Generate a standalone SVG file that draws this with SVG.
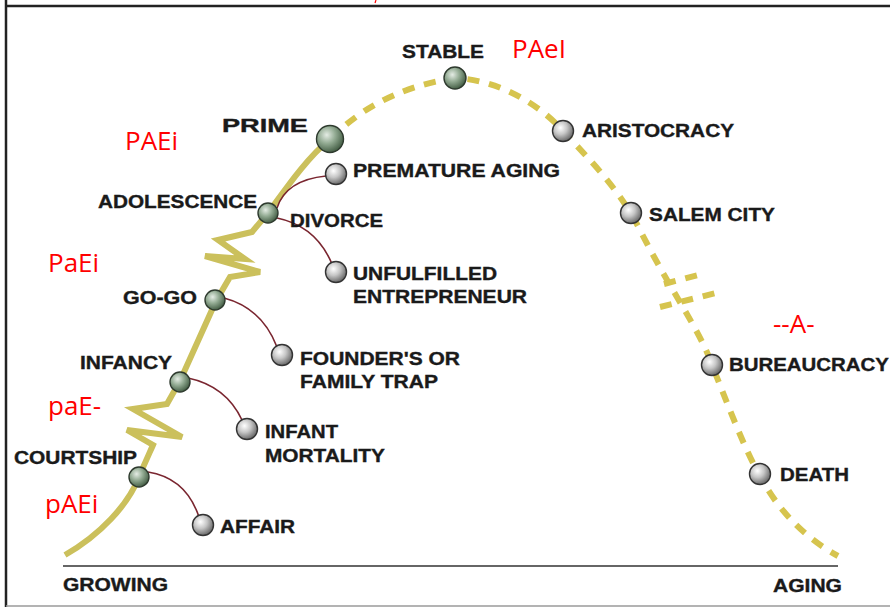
<svg xmlns="http://www.w3.org/2000/svg" width="890" height="607" viewBox="0 0 890 607">
  <defs>
    <radialGradient id="ballGreen" cx="0.38" cy="0.35" r="0.7">
      <stop offset="0" stop-color="#e4ece4"/>
      <stop offset="0.45" stop-color="#93ab93"/>
      <stop offset="1" stop-color="#3c563d"/>
    </radialGradient>
    <radialGradient id="ballGray" cx="0.38" cy="0.35" r="0.7">
      <stop offset="0" stop-color="#ffffff"/>
      <stop offset="0.45" stop-color="#c6c6c6"/>
      <stop offset="1" stop-color="#5e5e5e"/>
    </radialGradient>
    <style>
      .lbl { font-family: "Liberation Sans", Arial, sans-serif; font-weight: bold; font-size: 17.5px; fill: #1a1a1a; stroke: #1a1a1a; stroke-width: 0.35; }
      .code { font-family: "Open Sans", "Noto Sans", sans-serif; font-size: 26px; fill: #ff0000; }
      .green { fill: url(#ballGreen); stroke: #2e3a2e; stroke-width: 1.4; }
      .gray { fill: url(#ballGray); stroke: #333333; stroke-width: 1.4; }
      .grow { fill: none; stroke: #cbc05c; stroke-width: 6; stroke-linejoin: miter; }
      .decline { fill: none; stroke: #d6c44e; stroke-width: 6; stroke-dasharray: 12 10; }
      .trap { fill: none; stroke: #7a2630; stroke-width: 1.6; }
    </style>
  </defs>

  <rect width="890" height="607" fill="#ffffff"/>

  <!-- frame -->
  <line x1="6" y1="0" x2="6" y2="607" stroke="#222" stroke-width="2.5"/>
  <line x1="6" y1="6" x2="890" y2="6" stroke="#222" stroke-width="2.5"/>
  <line x1="6" y1="606" x2="890" y2="606" stroke="#9a9a9a" stroke-width="1.5"/>
  <line x1="376" y1="0" x2="375" y2="3" stroke="#ff0000" stroke-width="1.2"/>

  <!-- time axis -->
  <g id="axis">
    <line x1="63" y1="566" x2="838" y2="566" stroke="#333" stroke-width="1.3"/>
    <text class="lbl" x="63" y="591" textLength="105" lengthAdjust="spacingAndGlyphs">GROWING</text>
    <text class="lbl" x="773" y="592" textLength="69" lengthAdjust="spacingAndGlyphs">AGING</text>
  </g>

  <!-- connectors: lifecycle curve and trap branches -->
  <g id="connectors">
    <path class="grow" d="M65,555 C100,535 128,505 139,477 C146,460 150,452 153,445 L127,430 L182,437 L133,409 L167,404 L180,381 L216,301 L230,277 L260,272 L205,256 L245,259 L218,240 L252,232 L268,213 C285,190 305,160 330,139"/>
    <path class="decline" d="M330,139 C355,115 390,88 455,78 C500,80 540,105 563,131 C590,160 620,190 640,230 C670,290 700,330 712,365 C730,410 745,450 759,474 C775,505 800,535 838,556"/>
    <path class="decline" d="M664,284 L706,273"/>
    <path class="decline" d="M660,307 L716,293"/>
    <path class="trap" d="M148,472 Q186,478 199,517"/>
    <path class="trap" d="M188,378 Q226,386 242,420"/>
    <path class="trap" d="M224,298 Q262,308 277,347"/>
    <path class="trap" d="M277,208 Q286,180 326,176"/>
    <path class="trap" d="M277,218 Q316,226 332,264"/>
  </g>

  <!-- growth stages -->
  <g id="courtship"><circle class="green" cx="139" cy="477" r="10"/><text class="lbl" x="14" y="464" textLength="123" lengthAdjust="spacingAndGlyphs">COURTSHIP</text></g>
  <g id="infancy"><circle class="green" cx="180" cy="382" r="10"/><text class="lbl" x="80" y="369" textLength="92" lengthAdjust="spacingAndGlyphs">INFANCY</text></g>
  <g id="gogo"><circle class="green" cx="215" cy="300" r="10"/><text class="lbl" x="123" y="304" textLength="74" lengthAdjust="spacingAndGlyphs">GO-GO</text></g>
  <g id="adolescence"><circle class="green" cx="268" cy="213" r="10"/><text class="lbl" x="98" y="208" textLength="159" lengthAdjust="spacingAndGlyphs">ADOLESCENCE</text></g>
  <g id="prime"><circle class="green" cx="330" cy="139" r="13.5"/><text class="lbl" x="222" y="132" font-size="24" textLength="86" lengthAdjust="spacingAndGlyphs">PRIME</text></g>
  <g id="stable"><circle class="green" cx="455" cy="78" r="11"/><text class="lbl" x="402" y="58" textLength="82" lengthAdjust="spacingAndGlyphs">STABLE</text></g>

  <!-- traps -->
  <g id="affair"><circle class="gray" cx="203" cy="525" r="10.5"/><text class="lbl" x="220" y="533" textLength="75" lengthAdjust="spacingAndGlyphs">AFFAIR</text></g>
  <g id="infant-mortality"><circle class="gray" cx="247" cy="429" r="10.5"/><text class="lbl" x="265" y="438" textLength="73" lengthAdjust="spacingAndGlyphs">INFANT</text><text class="lbl" x="265" y="462" textLength="120" lengthAdjust="spacingAndGlyphs">MORTALITY</text></g>
  <g id="founders-trap"><circle class="gray" cx="282" cy="355" r="10.5"/><text class="lbl" x="300" y="365" textLength="160" lengthAdjust="spacingAndGlyphs">FOUNDER'S OR</text><text class="lbl" x="300" y="388" textLength="138" lengthAdjust="spacingAndGlyphs">FAMILY TRAP</text></g>
  <g id="unfulfilled"><circle class="gray" cx="336" cy="272" r="10.5"/><text class="lbl" x="353" y="280" textLength="144" lengthAdjust="spacingAndGlyphs">UNFULFILLED</text><text class="lbl" x="353" y="303" textLength="174" lengthAdjust="spacingAndGlyphs">ENTREPRENEUR</text></g>
  <g id="divorce"><text class="lbl" x="290" y="227" textLength="93" lengthAdjust="spacingAndGlyphs">DIVORCE</text></g>
  <g id="premature-aging"><circle class="gray" cx="336" cy="174" r="10.5"/><text class="lbl" x="353" y="177" textLength="207" lengthAdjust="spacingAndGlyphs">PREMATURE AGING</text></g>

  <!-- aging stages -->
  <g id="aristocracy"><circle class="gray" cx="563" cy="131" r="10.5"/><text class="lbl" x="582" y="137" textLength="152" lengthAdjust="spacingAndGlyphs">ARISTOCRACY</text></g>
  <g id="salem-city"><circle class="gray" cx="631" cy="213" r="10.5"/><text class="lbl" x="649" y="221" textLength="126" lengthAdjust="spacingAndGlyphs">SALEM CITY</text></g>
  <g id="bureaucracy"><circle class="gray" cx="712" cy="365" r="10.5"/><text class="lbl" x="729" y="371" textLength="160" lengthAdjust="spacingAndGlyphs">BUREAUCRACY</text></g>
  <g id="death"><circle class="gray" cx="760" cy="474" r="10.5"/><text class="lbl" x="780" y="481" textLength="69" lengthAdjust="spacingAndGlyphs">DEATH</text></g>

  <!-- PAEI codes -->
  <g id="codes">
    <text class="code" x="125" y="150">PAEi</text>
    <text class="code" x="512" y="58">PAeI</text>
    <text class="code" x="48" y="272">PaEi</text>
    <text class="code" x="48" y="415">paE-</text>
    <text class="code" x="45" y="513">pAEi</text>
    <text class="code" x="773" y="333">--A-</text>
  </g>
</svg>
